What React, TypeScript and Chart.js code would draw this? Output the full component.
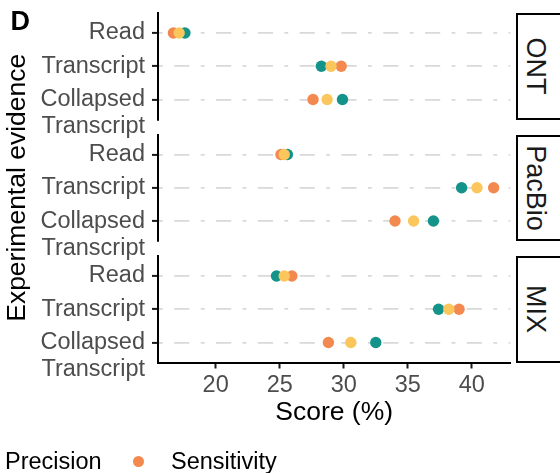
import { useEffect, useRef } from "react";
import { Chart, registerables } from "chart.js";

Chart.register(...registerables);

const FONT = "'Liberation Sans', Arial, Helvetica, sans-serif";

// Facets and evidence levels (rows inside each facet)
const platforms = ["ONT", "PacBio", "MIX"];
const evidenceLabels: (string | string[])[] = ["Read", "Transcript", ["", "Collapsed", "Transcript"]];
const evidenceIndex = [0, 1, 2];

// Scores (%) per platform, in evidence order: Read, Transcript, Collapsed Transcript
const precisionONT = [17.6, 28.25, 29.9];
const sensitivityONT = [16.7, 29.8, 27.6];
const f1ONT = [17.15, 29.0, 28.7];

const precisionPacBio = [25.6, 39.2, 37.0];
const sensitivityPacBio = [25.1, 41.7, 34.0];
const f1PacBio = [25.35, 40.4, 35.45];

const precisionMIX = [24.75, 37.4, 32.5];
const sensitivityMIX = [25.95, 39.0, 28.8];
const f1MIX = [25.35, 38.2, 30.55];

const xTicks = [20, 25, 30, 35, 40];
const X_MIN = 15.5;
const X_MAX = 43;

const COLORS = { precision: "#13938a", sensitivity: "#f4894f", f1: "#fbc65b" };

const panelSeries = [
  { precision: precisionONT, sensitivity: sensitivityONT, f1: f1ONT },
  { precision: precisionPacBio, sensitivity: sensitivityPacBio, f1: f1PacBio },
  { precision: precisionMIX, sensitivity: sensitivityMIX, f1: f1MIX },
];

// Page geometry
const W = 560;
const H = 473;
const PLOT_LEFT = 158;
const PLOT_RIGHT = 516;
const PANEL_TOPS = [13, 134.5, 256];
const PANEL_H = 106.5;

function PanelChart({ index }: { index: number }) {
  const ref = useRef<HTMLCanvasElement | null>(null);

  useEffect(() => {
    const canvas = ref.current;
    if (!canvas) return;
    const series = panelSeries[index];
    const isBottom = index === platforms.length - 1;
    const isMiddle = index === 1;
    const top = PANEL_TOPS[index];
    const bottom = top + PANEL_H;

    const toPoints = (vals: number[]) => evidenceIndex.map((k) => ({ x: vals[k], y: k }));
    const ds = (label: string, vals: number[], color: string) => ({
      label,
      data: toPoints(vals),
      backgroundColor: color,
      borderColor: color,
      borderWidth: 0,
      pointRadius: 5.7,
      pointHoverRadius: 5.7,
      clip: false as const,
    });

    const chart = new Chart(canvas, {
      type: "scatter",
      data: {
        datasets: [
          ds("F1-score", series.f1, COLORS.f1),
          ds("Precision", series.precision, COLORS.precision),
          ds("Sensitivity", series.sensitivity, COLORS.sensitivity),
        ],
      },
      options: {
        responsive: false,
        animation: false,
        devicePixelRatio: 1,
        layout: {
          padding: { top, bottom: isBottom ? 0 : H - bottom, left: 0, right: 0 },
        },
        plugins: { legend: { display: false }, tooltip: { enabled: false } },
        events: [],
        scales: {
          x: {
            type: "linear",
            min: X_MIN,
            max: X_MAX,
            display: isBottom,
            afterBuildTicks: (s: any) => {
              s.ticks = xTicks.map((v) => ({ value: v }));
            },
            afterFit: (s: any) => {
              if (isBottom) {
                s.height = H - bottom;
                s.paddingLeft = 0;
                s.paddingRight = 0;
              }
            },
            grid: {
              display: true,
              drawOnChartArea: false,
              drawTicks: true,
              tickLength: 6,
              tickWidth: 2,
              tickColor: "#1a1a1a",
            },
            border: { display: true, color: "#000", width: 2 },
            ticks: {
              font: { family: FONT, size: 23.5, lineHeight: 1.2 },
              color: "#4d4d4d",
              padding: 2.5,
              maxRotation: 0,
              autoSkip: false,
            },
            title: {
              display: true,
              text: "Score (%)",
              font: { family: FONT, size: 26.5, lineHeight: 1.2 },
              color: "#000",
              padding: { top: 0, bottom: 44.6 },
            },
          },
          y: {
            type: "linear",
            reverse: true,
            min: -0.6,
            max: 2.6,
            afterBuildTicks: (s: any) => {
              s.ticks = evidenceIndex.map((v) => ({ value: v }));
            },
            afterFit: (s: any) => {
              s.width = PLOT_LEFT;
              s.paddingTop = 0;
              s.paddingBottom = 0;
            },
            grid: {
              color: "#d9d9d9",
              lineWidth: 1.8,
              drawTicks: true,
              tickLength: 6,
              tickWidth: 2,
              tickColor: "#1a1a1a",
            },
            border: { display: true, color: "#000", width: 2, dash: [3.8, 11.4, 15.2, 11.4] },
            ticks: {
              font: { family: FONT, size: 23.5, lineHeight: 1.15 },
              color: "#4d4d4d",
              padding: 7,
              autoSkip: false,
              callback: (v: any) => evidenceLabels[Number(v)],
            },
            title: {
              display: isMiddle,
              text: "Experimental evidence",
              font: { family: FONT, size: 26.5, lineHeight: 1.2 },
              color: "#000",
              padding: { top: 2, bottom: 0 },
            },
          },
        },
      } as any,
    });

    return () => chart.destroy();
  }, [index]);

  return (
    <canvas
      ref={ref}
      width={PLOT_RIGHT}
      height={H}
      style={{ position: "absolute", left: 0, top: 0, width: PLOT_RIGHT, height: H, display: "block" }}
    />
  );
}

function Strip({ index }: { index: number }) {
  const top = PANEL_TOPS[index];
  return (
    <>
      <div
        style={{
          position: "absolute",
          left: PLOT_RIGHT,
          top,
          width: 60,
          height: PANEL_H,
          border: "2px solid #000",
          boxSizing: "border-box",
          background: "#fff",
        }}
      />
      <div
        style={{
          position: "absolute",
          left: 535.5,
          top: top + PANEL_H / 2,
          transform: "translate(-50%, -50%)",
          writingMode: "vertical-rl",
          fontSize: 27,
          lineHeight: 1,
          color: "#1a1a1a",
          whiteSpace: "nowrap",
        }}
      >
        {platforms[index]}
      </div>
    </>
  );
}

export default function App() {
  return (
    <div
      style={{
        position: "fixed",
        left: 0,
        top: 0,
        width: W,
        height: H,
        overflow: "hidden",
        background: "#fff",
        fontFamily: FONT,
      }}
    >
      {platforms.map((p, i) => (
        <PanelChart key={p} index={i} />
      ))}
      {platforms.map((p, i) => (
        <Strip key={p} index={i} />
      ))}
      <div
        style={{
          position: "absolute",
          left: 10.5,
          top: 8.2,
          fontSize: 27,
          fontWeight: "bold",
          lineHeight: 1,
          color: "#000",
        }}
      >
        D
      </div>
      <div
        style={{
          position: "absolute",
          left: 5,
          top: 449.5,
          fontSize: 23.5,
          lineHeight: 1,
          color: "#000",
          whiteSpace: "nowrap",
        }}
      >
        Precision
      </div>
      <div
        style={{
          position: "absolute",
          left: 132.5,
          top: 455.5,
          width: 11,
          height: 11,
          borderRadius: "50%",
          background: COLORS.sensitivity,
        }}
      />
      <div
        style={{
          position: "absolute",
          left: 171,
          top: 449.5,
          fontSize: 23.5,
          lineHeight: 1,
          color: "#000",
          whiteSpace: "nowrap",
        }}
      >
        Sensitivity
      </div>
    </div>
  );
}
